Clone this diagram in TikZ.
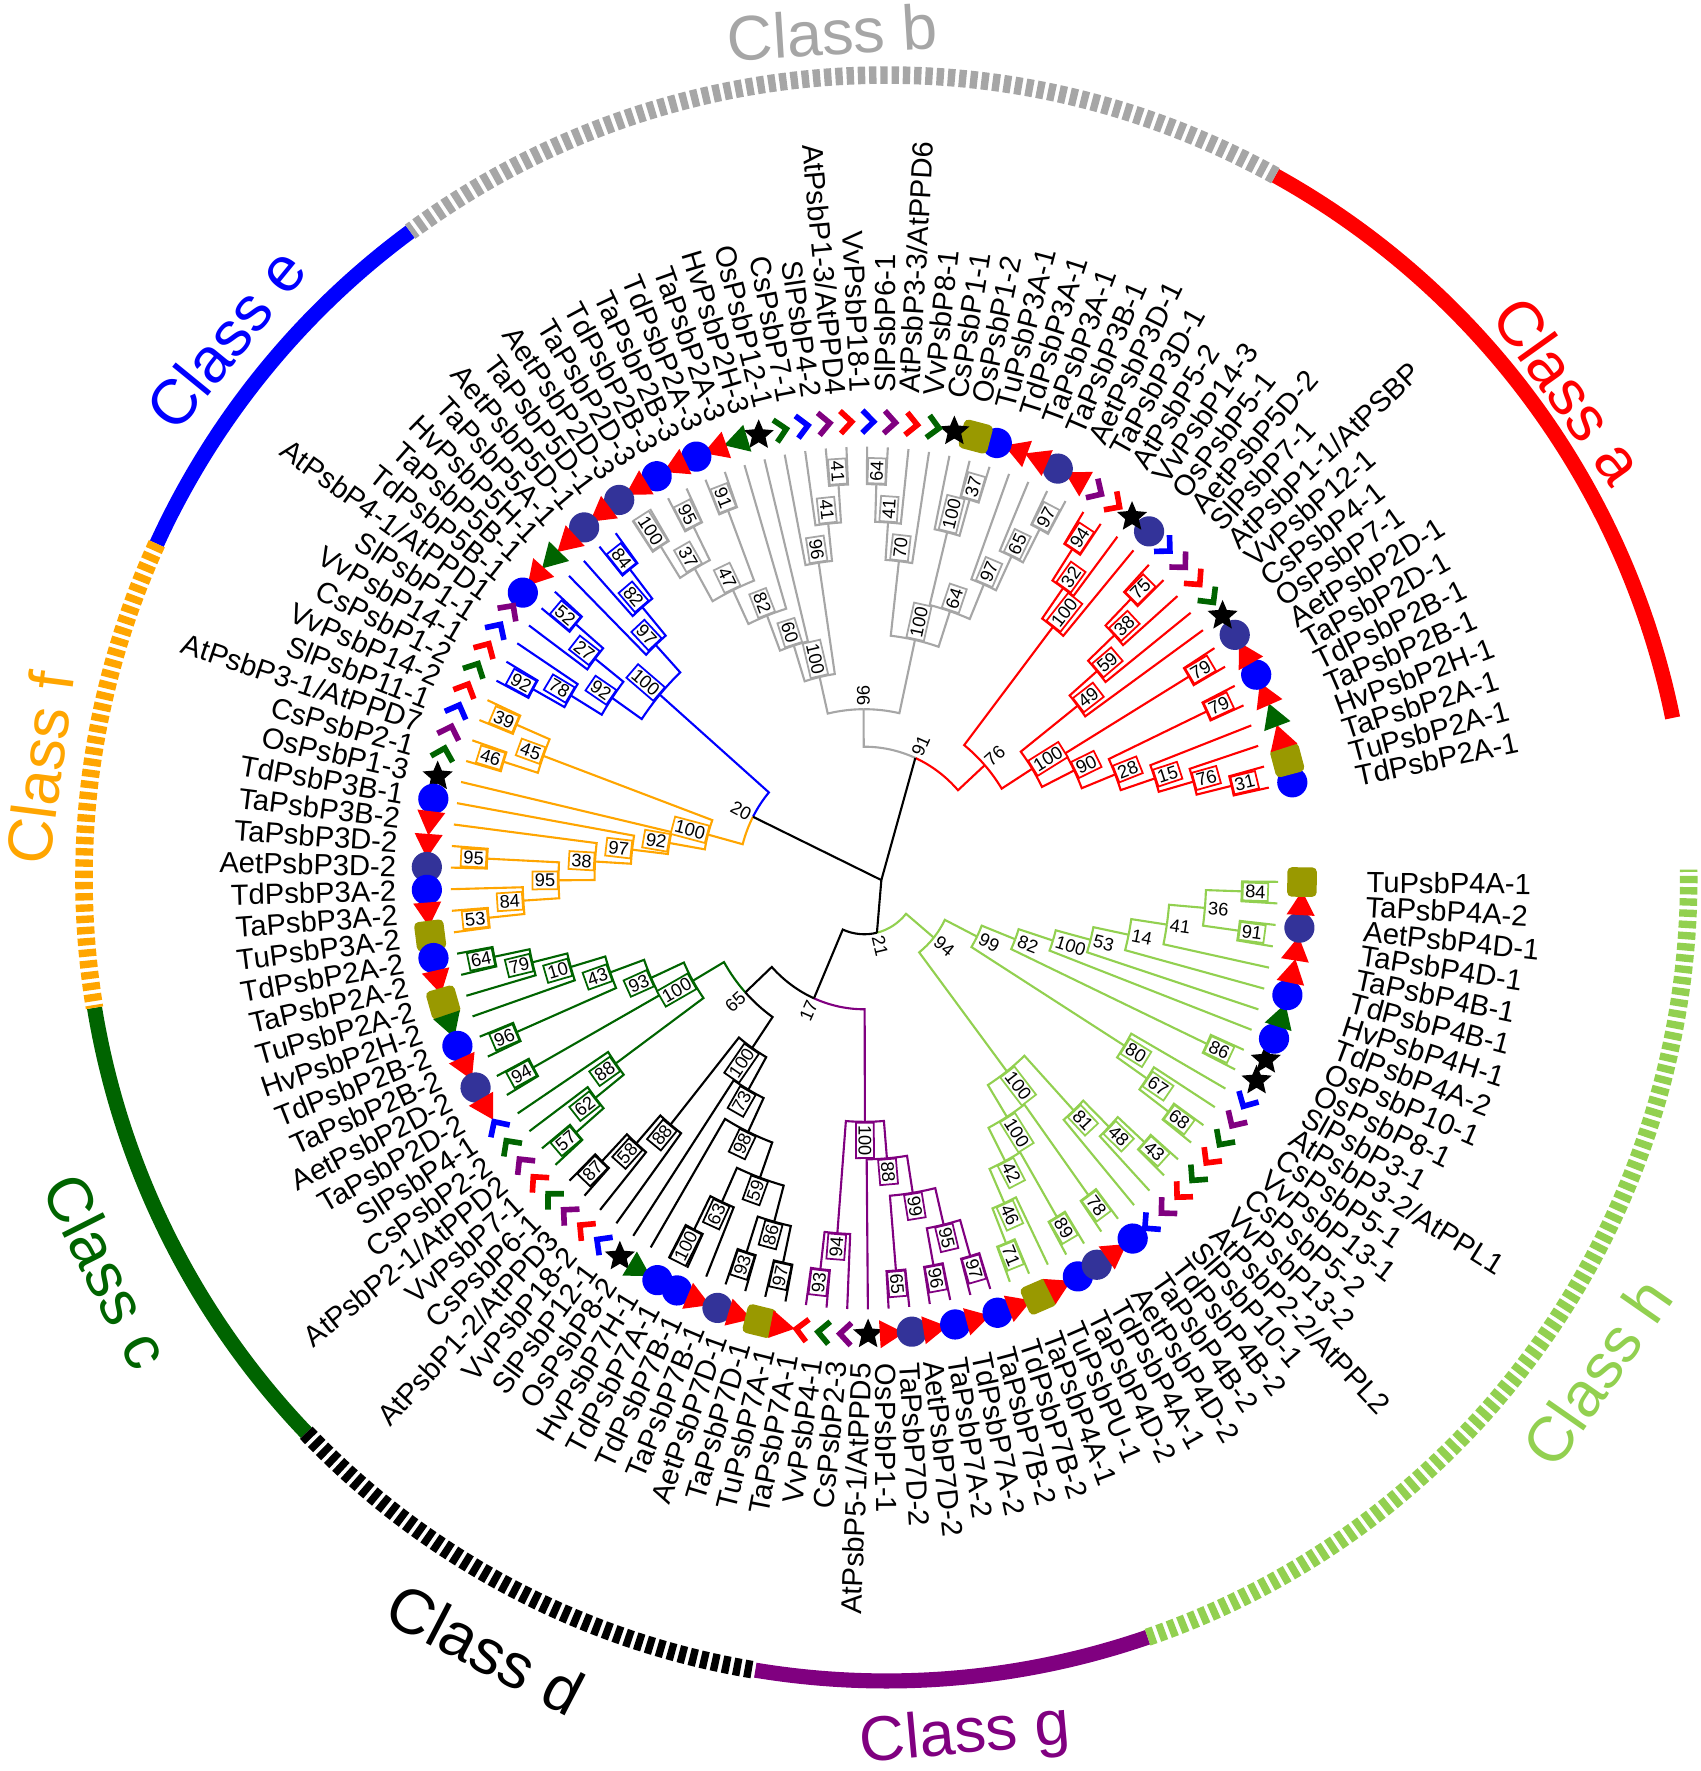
\documentclass[tikz,border=0pt]{standalone}
\usepackage{fontspec}
\setmainfont{Liberation Sans}
\usetikzlibrary{shapes.geometric,calc}

\definecolor{clsgray}{RGB}{166,166,166}
\definecolor{clsorange}{RGB}{255,165,0}
\definecolor{clsgreen}{RGB}{0,100,0}
\definecolor{clspurple}{RGB}{128,0,128}
\definecolor{clslime}{RGB}{146,208,80}
\definecolor{aetblue}{RGB}{51,51,153}
\definecolor{tuolive}{RGB}{153,153,0}

\tikzset{
  tree/.style={line width=0.6pt},
  leaflbl/.style={font=\fontsize{8.3}{9}\selectfont, inner sep=0pt},
  bslbl/.style={font=\fontsize{5.2}{6}\selectfont, inner sep=0.7pt, line width=0.5pt},
  clsname/.style={font=\fontsize{18}{20}\selectfont},
  chev/.style={line width=1.6pt},
}

% leaf markers, one per species
\newcommand\markTd{\fill[blue] (0,0) circle[radius=4.3pt];}
\newcommand\markAet{\fill[aetblue] (0,0) circle[radius=4.3pt];}
\newcommand\markTa{\fill[red] (0,4pt) -- (-4pt,-2.9pt) -- (4pt,-2.9pt) -- cycle;}
\newcommand\markHv{\fill[clsgreen] (0,4pt) -- (-4pt,-2.9pt) -- (4pt,-2.9pt) -- cycle;}
\newcommand\markTu{\fill[tuolive, rounded corners=1.3pt] (-4.2pt,-4.2pt) rectangle (4.2pt,4.2pt);}
\newcommand\markOs{\node[star, star points=5, star point ratio=2.2, fill=black, minimum size=9pt, inner sep=0pt] at (0,0) {};}
\newcommand\markCs{\draw[chev, clsgreen] (-3.2pt,1.4pt) -- (0,-1.8pt) -- (3.2pt,1.4pt);}
\newcommand\markVv{\draw[chev, red] (-3.2pt,1.4pt) -- (0,-1.8pt) -- (3.2pt,1.4pt);}
\newcommand\markAt{\draw[chev, clspurple] (-3.2pt,1.4pt) -- (0,-1.8pt) -- (3.2pt,1.4pt);}
\newcommand\markSl{\draw[chev, blue] (-3.2pt,1.4pt) -- (0,-1.8pt) -- (3.2pt,1.4pt);}

% one branch from the current clade node to a child
\newcommand\branch[2]{%
  \ifcsname col@#1\endcsname\edef\ec{\csname col@#1\endcsname}\else\edef\ec{\col}\fi
  \draw[tree, color=\ec] (\na:\nr) arc[start angle=\na, end angle=#2, radius=\nr]
    -- (#2:\csname rad@#1\endcsname);%
}

\begin{document}
\begin{tikzpicture}[x=0.01cm, y=0.01042cm]
\useasboundingbox (-865,-857) rectangle (837,842.6);

% class rings
\foreach \s/\e/\col in {11.5/61/red, 126.4/155.4/blue, 189.3/223.7/clsgreen, 260.6/289/clspurple}
  \draw[line width=4.3pt, color=\col] ($(22,0)+(\s:803 and 770.6)$) arc[start angle=\s, end angle=\e, x radius=803, y radius=770.6];
\foreach \s/\e/\col in {61/126.4/clsgray, 155.4/189.3/clsorange, 223.7/260.6/black, 289/360.6/clslime}
  \draw[line width=5pt, dash pattern=on 2.1pt off 1.1pt, color=\col] ($(22,0)+(\s:803 and 770.6)$) arc[start angle=\s, end angle=\e, x radius=803, y radius=770.6];

% class names
\foreach \x/\y/\r/\cl/\t in {705/468.3/-54.5/red/a, -32/812/3.6/clsgray/b, -639/517.3/50.8/blue/e,
    -825/105.6/82.6/clsorange/f, -758/-377.2/-63.3/clsgreen/c, -379/-739.9/-27.5/black/d,
    101/-824/5.2/clspurple/g, 733/-474.1/55.2/clslime/h}
  \node[clsname, text=\cl, rotate=\r] at (\x,\y) {Class \t};

% leaf angles
\foreach \i in {1,...,122}{
  \pgfmathsetmacro\ang{12.1+(\i-1)*2.871}
  \expandafter\xdef\csname ang@\i\endcsname{\ang}
  \expandafter\xdef\csname rad@\i\endcsname{414}
}

% clades: name/height/child/child/colour/bootstrap/boxed
\foreach \nd/\h/\ca/\cb/\col/\bs/\bx in {
    r31/1/1/2/red/31/1, r76b/2/r31/3/red/76/1, r15/3/r76b/4/red/15/1, r79a/1/5/6/red/79/1,
    r28/4/r15/r79a/red/28/1, r79b/1/7/8/red/79/1, r90/5/r28/r79b/red/90/1, r75/1/12/13/red/75/1,
    r38/2/r75/11/red/38/1, r59/3/r38/10/red/59/1, r49/4/r59/9/red/49/1, r100a/6/r90/r49/red/100/1,
    r94/1/16/17/red/94/1, r32/2/r94/15/red/32/1, r100b/3/r32/14/red/100/1, r76/7/r100a/r100b/red/76/0,
    g97a/1/18/19/clsgray/97/1, g65/2/g97a/20/clsgray/65/1, g97b/3/g65/21/clsgray/97/1,
    g37a/1/22/23/clsgray/37/1, g100a/2/g37a/24/clsgray/100/1, g64a/4/g97b/g100a/clsgray/64/1,
    g64b/1/27/28/clsgray/64/1, g41a/2/26/g64b/clsgray/41/1, g70/3/25/g41a/clsgray/70/1,
    g100b/5/g64a/g70/clsgray/100/1, g41b/1/29/30/clsgray/41/1, g41c/2/g41b/31/clsgray/41/1,
    g96a/3/g41c/32/clsgray/96/1, g91/1/35/36/clsgray/91/1, g95/1/37/38/clsgray/95/1,
    g100c/1/39/40/clsgray/100/1, g37b/2/g95/g100c/clsgray/37/1, g47/3/g91/g37b/clsgray/47/1,
    g82/4/34/g47/clsgray/82/1, g60/5/33/g82/clsgray/60/1, g100d/6/g96a/g60/clsgray/100/1,
    g96/7/g100b/g100d/clsgray/96/0, bb91/8/r76/g96/black/91/0,
    e84/1/41/42/blue/84/1, e82/2/e84/43/blue/82/1, e97/3/e82/44/blue/97/1, e52/1/45/46/blue/52/1,
    e27/2/e52/47/blue/27/1, e92a/1/49/50/blue/92/1, e78/2/48/e92a/blue/78/1, e92b/3/e27/e78/blue/92/1,
    e100/4/e97/e92b/blue/100/1,
    f39/1/51/52/clsorange/39/1, f46/1/53/54/clsorange/46/1, f45/2/f39/f46/clsorange/45/1,
    f95a/1/58/59/clsorange/95/1, f53/1/61/62/clsorange/53/1, f84/2/60/f53/clsorange/84/1,
    f95b/3/f95a/f84/clsorange/95/1, f38/4/57/f95b/clsorange/38/1, f97/5/56/f38/clsorange/97/1,
    f92/6/55/f97/clsorange/92/1, f100/7/f45/f92/clsorange/100/1, bb20/8/e100/f100/black/20/0,
    c64/1/63/64/clsgreen/64/1, c79/2/c64/65/clsgreen/79/1, c10/3/c79/66/clsgreen/10/1,
    c96/1/67/68/clsgreen/96/1, c43/4/c10/c96/clsgreen/43/1, c94/1/69/70/clsgreen/94/1,
    c93/5/c43/c94/clsgreen/93/1, c57/1/73/74/clsgreen/57/1, c62/2/72/c57/clsgreen/62/1,
    c88/3/71/c62/clsgreen/88/1, c100/6/c93/c88/clsgreen/100/1,
    d87/1/75/76/black/87/1, d58/2/d87/77/black/58/1, d88/3/d58/78/black/88/1,
    d100a/1/81/82/black/100/1, d63/2/d100a/83/black/63/1, d93/1/84/85/black/93/1,
    d97/1/86/87/black/97/1, d86/2/d93/d97/black/86/1, d59/3/d63/d86/black/59/1,
    d98/4/80/d59/black/98/1, d73/5/79/d98/black/73/1, d100/6/d88/d73/black/100/1,
    bb65/7/c100/d100/black/65/0,
    p93/1/88/89/clspurple/93/1, p94/2/p93/90/clspurple/94/1, p65/1/92/93/clspurple/65/1,
    p96/1/94/95/clspurple/96/1, p97/1/96/97/clspurple/97/1, p95/2/p96/p97/clspurple/95/1,
    p99/3/p65/p95/clspurple/99/1, p88/4/91/p99/clspurple/88/1, p100/5/p94/p88/clspurple/100/1,
    bb17/8/bb65/p100/black/17/0,
    h71/1/98/99/clslime/71/1, h46/2/h71/100/clslime/46/1, h89/1/101/102/clslime/89/1,
    h42/3/h46/h89/clslime/42/1, h78/1/103/104/clslime/78/1, h100a/4/h42/h78/clslime/100/1,
    h43/1/107/108/clslime/43/1, h48/2/106/h43/clslime/48/1, h81/3/105/h48/clslime/81/1,
    h100b/5/h100a/h81/clslime/100/1, h68/1/109/110/clslime/68/1, h67/2/h68/111/clslime/67/1,
    h80/3/h67/112/clslime/80/1, h86/1/113/114/clslime/86/1, h84/1/121/122/clslime/84/1,
    h91/1/119/120/clslime/91/1, h36/2/h91/h84/clslime/36/0, h41/3/118/h36/clslime/41/0,
    h14/4/117/h41/clslime/14/0, h53/5/116/h14/clslime/53/0, h100c/6/115/h53/clslime/100/0,
    h82/7/h86/h100c/clslime/82/0, h99/8/h80/h82/clslime/99/0, h94/9/h100b/h99/clslime/94/0,
    bb21/10/bb17/h94/black/21/0}{
  \pgfmathsetmacro\ta{\csname ang@\ca\endcsname}
  \pgfmathsetmacro\tb{\csname ang@\cb\endcsname}
  \pgfmathsetmacro\na{(\ta+\tb)/2}
  \pgfmathsetmacro\nr{414-36*\h}
  \expandafter\xdef\csname ang@\nd\endcsname{\na}
  \expandafter\xdef\csname rad@\nd\endcsname{\nr}
  \expandafter\xdef\csname col@\nd\endcsname{\col}
  \branch{\ca}{\ta}\branch{\cb}{\tb}
  \pgfmathtruncatemacro\lft{(\na>90)*(\na<270)}
  \ifnum\lft=1 \def\an{east}\pgfmathsetmacro\rt{\na-180}\else\def\an{west}\let\rt\na\fi
  \ifnum\bx=1
    \node[bslbl, draw=\col, fill=white, anchor=\an, rotate=\rt] at (\na:\nr) {\bs};
  \else
    \node[bslbl, anchor=\an, rotate=\rt] at (\na:\nr) {\bs};
  \fi
}
% root: three lines meeting in one point
\coordinate (treeroot) at (17,-2);
\foreach \nd in {bb91,bb20,bb21}
  \draw[tree] (treeroot) -- (\csname ang@\nd\endcsname:\csname rad@\nd\endcsname);

% markers and gene names
\foreach \sp/\nm [count=\i] in {
    Td/{PsbP2A-1}, Tu/{PsbP2A-1}, Ta/{PsbP2A-1}, Hv/{PsbP2H-1}, Ta/{PsbP2B-1}, Td/{PsbP2B-1},
    Ta/{PsbP2D-1}, Aet/{PsbP2D-1}, Os/{PsbP7-1}, Cs/{PsbP4-1}, Vv/{PsbP12-1}, At/{PsbP1-1/AtPSBP},
    Sl/{PsbP7-1}, Aet/{PsbP5D-2}, Os/{PsbP5-1}, Vv/{PsbP14-3}, At/{PsbP5-2},
    Ta/{PsbP3D-1}, Aet/{PsbP3D-1}, Ta/{PsbP3B-1}, Ta/{PsbP3A-1}, Td/{PsbP3A-1}, Tu/{PsbP3A-1},
    Os/{PsbP1-2}, Cs/{PsbP1-1}, Vv/{PsbP8-1}, At/{PsbP3-3/AtPPD6}, Sl/{PsbP6-1}, Vv/{PsbP18-1},
    At/{PsbP1-3/AtPPD4}, Sl/{PsbP4-2}, Cs/{PsbP7-1}, Os/{PsbP12-1}, Hv/{PsbP2H-3}, Ta/{PsbP2A-3},
    Td/{PsbP2A-3}, Ta/{PsbP2B-3}, Td/{PsbP2B-3}, Ta/{PsbP2D-3}, Aet/{PsbP2D-3},
    Ta/{PsbP5D-1}, Aet/{PsbP5D-1}, Ta/{PsbP5A-1}, Hv/{PsbP5H-1}, Ta/{PsbP5B-1}, Td/{PsbP5B-1},
    At/{PsbP4-1/AtPPD1}, Sl/{PsbP1-1}, Vv/{PsbP14-1}, Cs/{PsbP1-2},
    Vv/{PsbP14-2}, Sl/{PsbP11-1}, At/{PsbP3-1/AtPPD7}, Cs/{PsbP2-1}, Os/{PsbP1-3}, Td/{PsbP3B-1},
    Ta/{PsbP3B-2}, Ta/{PsbP3D-2}, Aet/{PsbP3D-2}, Td/{PsbP3A-2}, Ta/{PsbP3A-2}, Tu/{PsbP3A-2},
    Td/{PsbP2A-2}, Ta/{PsbP2A-2}, Tu/{PsbP2A-2}, Hv/{PsbP2H-2}, Td/{PsbP2B-2}, Ta/{PsbP2B-2},
    Aet/{PsbP2D-2}, Ta/{PsbP2D-2}, Sl/{PsbP4-1}, Cs/{PsbP2-2}, At/{PsbP2-1/AtPPD2}, Vv/{PsbP7-1},
    Cs/{PsbP6-1}, At/{PsbP1-2/AtPPD3}, Vv/{PsbP18-2}, Sl/{PsbP12-1}, Os/{PsbP8-2}, Hv/{PsbP7H-1},
    Td/{PsbP7A-1}, Td/{PsbP7B-1}, Ta/{PsbP7B-1}, Aet/{PsbP7D-1}, Ta/{PsbP7D-1}, Tu/{PsbP7A-1},
    Ta/{PsbP7A-1},
    Vv/{PsbP4-1}, Cs/{PsbP2-3}, At/{PsbP5-1/AtPPD5}, Os/{PsbP1-1}, Ta/{PsbP7D-2}, Aet/{PsbP7D-2},
    Ta/{PsbP7A-2}, Td/{PsbP7A-2}, Ta/{PsbP7B-2}, Td/{PsbP7B-2},
    Ta/{PsbP4A-1}, Tu/{PsbPU-1}, Ta/{PsbP4D-2}, Td/{PsbP4A-1}, Aet/{PsbP4D-2}, Ta/{PsbP4B-2},
    Td/{PsbP4B-2}, Sl/{PsbP10-1}, At/{PsbP2-2/AtPPL2}, Vv/{PsbP13-2}, Cs/{PsbP5-2}, Vv/{PsbP13-1},
    Cs/{PsbP5-1}, At/{PsbP3-2/AtPPL1}, Sl/{PsbP3-1}, Os/{PsbP8-1}, Os/{PsbP10-1}, Td/{PsbP4A-2},
    Hv/{PsbP4H-1}, Td/{PsbP4B-1}, Ta/{PsbP4B-1}, Ta/{PsbP4D-1}, Aet/{PsbP4D-1}, Ta/{PsbP4A-2},
    Tu/{PsbP4A-1}}{
  \pgfmathsetmacro\ang{12.1+(\i-1)*2.871}
  \begin{scope}[shift={(\ang:438)}, rotate=\ang]
    \csname mark\sp\endcsname
  \end{scope}
  \pgfmathtruncatemacro\lft{(\ang>90)*(\ang<270)}
  \ifnum\lft=1
    \node[leaflbl, anchor=east, rotate=\ang-180] at ($(17,0)+(\ang:485 and 465.5)$) {\sp\nm};
  \else
    \node[leaflbl, anchor=west, rotate=\ang] at ($(17,0)+(\ang:485 and 465.5)$) {\sp\nm};
  \fi
}
\end{tikzpicture}
\end{document}
